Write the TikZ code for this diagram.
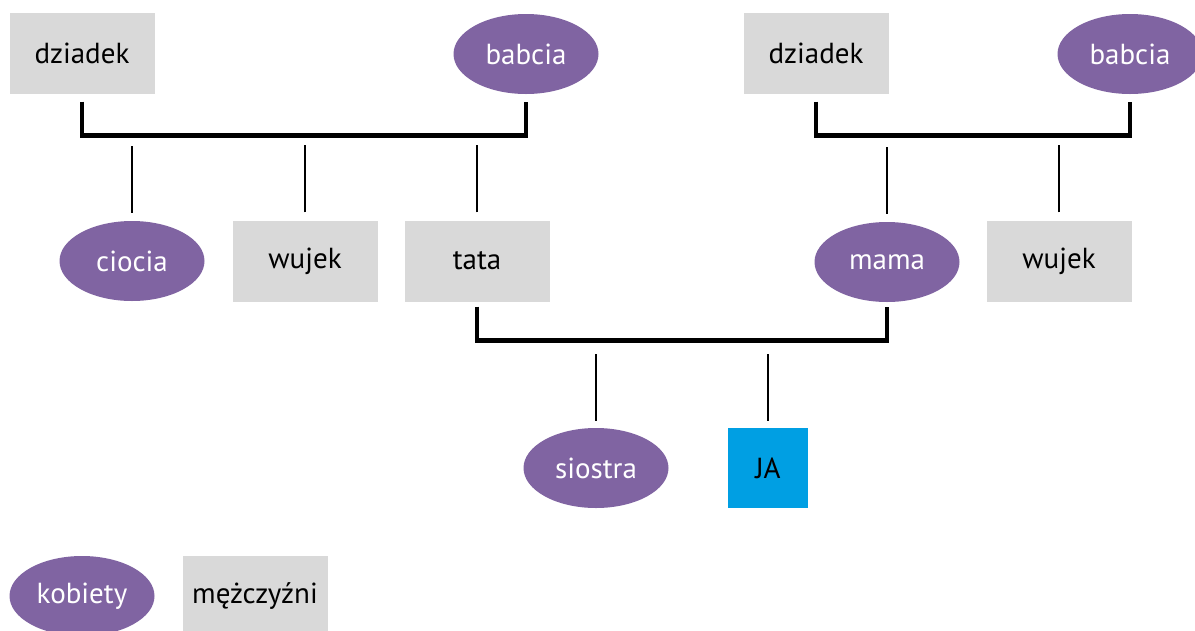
\documentclass[tikz,border=0pt]{standalone}
\usepackage{fontspec}
\setmainfont{PT Sans}
\usetikzlibrary{positioning,shapes.geometric}
\definecolor{fiolet}{HTML}{8064A2}
\definecolor{szary}{HTML}{D9D9D9}
\definecolor{niebieski}{HTML}{009FE3}

\begin{document}
\begin{tikzpicture}[x=1pt, y=-1pt,
  female/.style={ellipse, fill=fiolet, text=white, minimum width=145pt, minimum height=80pt, inner sep=0pt},
  male/.style={rectangle, fill=szary, text=black, minimum width=145pt, minimum height=81pt, inner sep=0pt},
  me/.style={rectangle, fill=niebieski, text=black, minimum width=80pt, minimum height=80pt, inner sep=0pt},
  bond/.style={line width=4.5pt},
  kid/.style={line width=1.4pt}]

  \fontsize{29}{33}\selectfont

  \useasboundingbox (0,0) rectangle (1195,630);
  \clip (0,0) rectangle (1195,630);

  % dziadkowie
  \node[male]   (dziadekL) at (82,53)   {dziadek};
  \node[female] (babciaL)  at (526,54)  {babcia};
  \node[male]   (dziadekR) at (816,53)  {dziadek};
  \node[female] (babciaR)  at (1130,54) {babcia};

  % rodzice, ciocia, wujkowie
  \node[female] (ciocia) at (132,261) {ciocia};
  \node[male]   (wujekL) at (305,261) {wujek};
  \node[male]   (tata)   at (477,261) {tata};
  \node[female] (mama)   at (887,262) {mama};
  \node[male]   (wujekR) at (1059,261) {wujek};

  % dzieci
  \node[female] (siostra) at (596,468) {siostra};
  \node[me]     (ja)      at (768,468) {JA};

  % legenda
  \node[female] (kobiety)    at (82,596)  {kobiety};
  \node[male]   (mezczyzni)  at (255,596) {mężczyźni};

  % pary
  \draw[bond] ([yshift=-8pt]dziadekL.south) -- ++(0,34) -| ([yshift=-8pt]babciaL.south);
  \draw[bond] ([yshift=-8pt]dziadekR.south) -- ++(0,34) -| ([yshift=-8pt]babciaR.south);
  \draw[bond] ([yshift=-5pt]tata.south) -- ++(0,34) -| ([yshift=-5pt]mama.south);

  % dzieci
  \draw[kid] ([yshift=8pt]ciocia.north) -- ++(0,-67);
  \draw[kid] ([yshift=8pt]wujekL.north) -- ++(0,-67);
  \draw[kid] ([yshift=8pt]tata.north) -- ++(0,-67);
  \draw[kid] ([yshift=8pt]mama.north) -- ++(0,-67);
  \draw[kid] ([yshift=8pt]wujekR.north) -- ++(0,-67);
  \draw[kid] ([yshift=7pt]siostra.north) -- ++(0,-67);
  \draw[kid] ([yshift=7pt]ja.north) -- ++(0,-67);
\end{tikzpicture}
\end{document}
